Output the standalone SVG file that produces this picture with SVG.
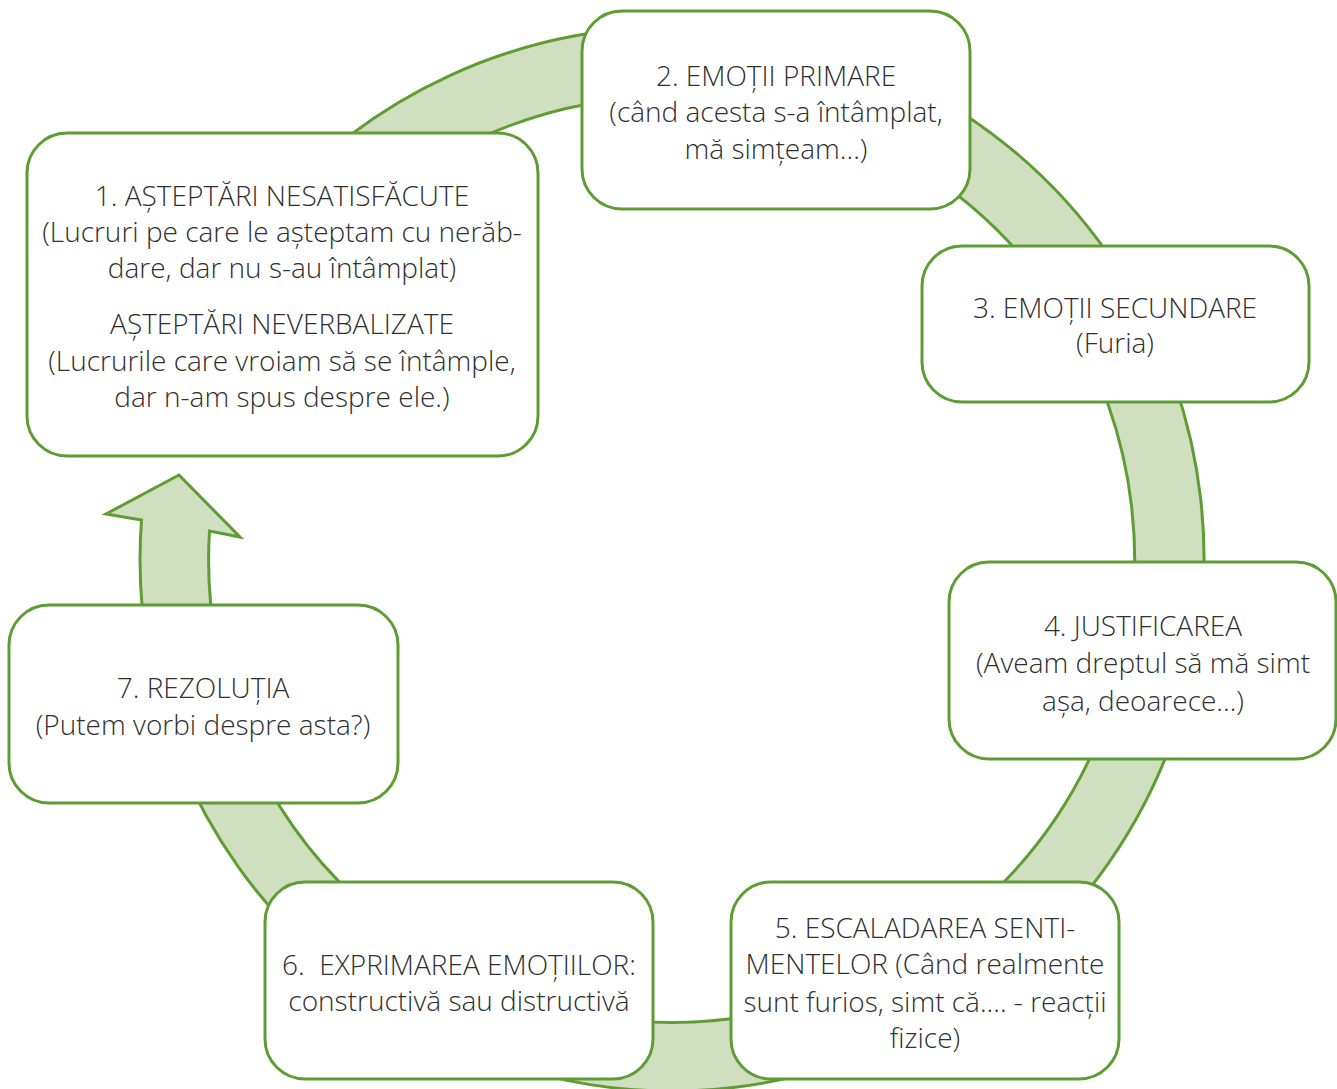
<svg xmlns="http://www.w3.org/2000/svg" width="1337" height="1089" viewBox="0 0 1337 1089">
  <style>
    .ring { fill: #cfdfc0; stroke: #5e9c34; stroke-width: 3; stroke-linejoin: miter; }
    .box { fill: #ffffff; stroke: #5e9c34; stroke-width: 3; }
    .lbl { font-family: "Open Sans", "Noto Sans", "Liberation Sans", sans-serif; font-weight: 300; font-size: 28px; fill: #303030; text-anchor: middle; }
  </style>
  <rect width="1337" height="1089" fill="#ffffff"/>

  <!-- circular flow band with arrowhead pointing back up to step 1 -->
  <g id="connectors">
    <path class="ring" d="M 264.5 217 A 532 532 0 1 1 141.5 520 L 106 514 L 179 475 L 240 537 L 209.5 531 A 463 463 0 1 0 317.3 261.4 Z"/>
  </g>

  <g id="node1">
    <rect class="box" x="27" y="133" width="511" height="323" rx="40"/>
    <text class="lbl" x="282" y="206">1. AȘTEPTĂRI NESATISFĂCUTE</text>
    <text class="lbl" x="282" y="242">(Lucruri pe care le așteptam cu nerăb-</text>
    <text class="lbl" x="282" y="278">dare, dar nu s-au întâmplat)</text>
    <text class="lbl" x="282" y="334">AȘTEPTĂRI NEVERBALIZATE</text>
    <text class="lbl" x="282" y="371">(Lucrurile care vroiam să se întâmple,</text>
    <text class="lbl" x="282" y="407">dar n-am spus despre ele.)</text>
  </g>

  <g id="node2">
    <rect class="box" x="582" y="11" width="388" height="198" rx="40"/>
    <text class="lbl" x="776" y="86">2. EMOȚII PRIMARE</text>
    <text class="lbl" x="776" y="122">(când acesta s-a întâmplat,</text>
    <text class="lbl" x="776" y="159">mă simțeam...)</text>
  </g>

  <g id="node3">
    <rect class="box" x="922" y="246" width="387" height="156" rx="40"/>
    <text class="lbl" x="1115" y="318">3. EMOȚII SECUNDARE</text>
    <text class="lbl" x="1115" y="353">(Furia)</text>
  </g>

  <g id="node4">
    <rect class="box" x="949" y="562" width="387" height="197" rx="40"/>
    <text class="lbl" x="1143" y="636">4. JUSTIFICAREA</text>
    <text class="lbl" x="1143" y="673">(Aveam dreptul să mă simt</text>
    <text class="lbl" x="1143" y="711">așa, deoarece...)</text>
  </g>

  <g id="node5">
    <rect class="box" x="731" y="882" width="388" height="197" rx="40"/>
    <text class="lbl" x="925" y="938">5. ESCALADAREA SENTI-</text>
    <text class="lbl" x="925" y="974">MENTELOR (Când realmente</text>
    <text class="lbl" x="925" y="1012">sunt furios, simt că.... - reacții</text>
    <text class="lbl" x="925" y="1048">fizice)</text>
  </g>

  <g id="node6">
    <rect class="box" x="265" y="882" width="388" height="197" rx="40"/>
    <text class="lbl" x="459" y="975" xml:space="preserve">6.  EXPRIMAREA EMOȚIILOR:</text>
    <text class="lbl" x="459" y="1011">constructivă sau distructivă</text>
  </g>

  <g id="node7">
    <rect class="box" x="9" y="605" width="389" height="198" rx="40"/>
    <text class="lbl" x="203" y="698">7. REZOLUȚIA</text>
    <text class="lbl" x="203" y="735">(Putem vorbi despre asta?)</text>
  </g>
</svg>
